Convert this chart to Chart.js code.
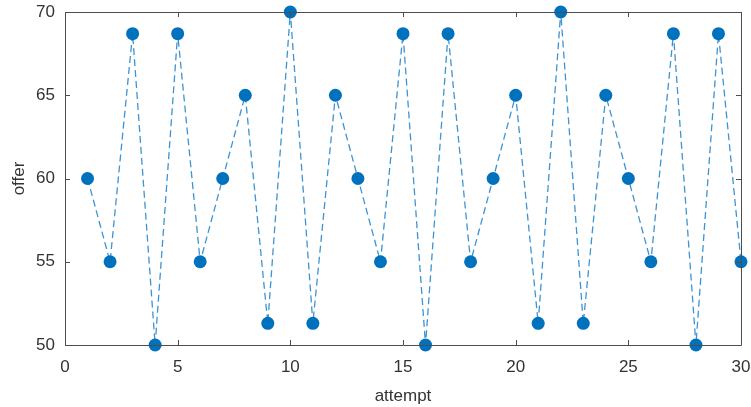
<!DOCTYPE html>
<html>
<head>
<meta charset="utf-8">
<script src="https://cdn.jsdelivr.net/npm/chart.js@4/dist/chart.umd.min.js"></script>
<style>
html,body{margin:0;padding:0;background:#fff;}
#wrap{width:751px;height:407px;position:relative;}
</style>
</head>
<body>
<div id="wrap"><canvas id="c" width="751" height="407"></canvas></div>
<script>
const attempts = [1,2,3,4,5,6,7,8,9,10,11,12,13,14,15,16,17,18,19,20,21,22,23,24,25,26,27,28,29,30];
const offers = [60,55,68.7,50,68.7,55,60,65,51.3,70,51.3,65,60,55,68.7,50,68.7,55,60,65,51.3,70,51.3,65,60,55,68.7,50,68.7,55];
const xTicks = [0,5,10,15,20,25,30];
const yTicks = [50,55,60,65,70];
const xTitle = 'attempt';
const yTitle = 'offer';

const axisColor = '#4d4d4d';
const textColor = '#333333';
const font = {family:'"Liberation Sans", Arial, sans-serif', size:17};

const boxPlugin = {
  id:'box',
  afterDraw(chart){
    const {ctx, chartArea:a, scales:{x,y}} = chart;
    ctx.save();
    ctx.strokeStyle = axisColor;
    ctx.lineWidth = 1;
    ctx.beginPath();
    ctx.rect(Math.round(a.left)+0.5, Math.round(a.top)+0.5, Math.round(a.right-a.left), Math.round(a.bottom-a.top));
    ctx.stroke();
    const L = 5;
    ctx.beginPath();
    xTicks.forEach(v=>{
      const px = Math.round(x.getPixelForValue(v))+0.5;
      ctx.moveTo(px,a.bottom); ctx.lineTo(px,a.bottom-L);
      ctx.moveTo(px,a.top); ctx.lineTo(px,a.top+L);
    });
    yTicks.forEach(v=>{
      const py = Math.round(y.getPixelForValue(v))+0.5;
      ctx.moveTo(a.left,py); ctx.lineTo(a.left+L,py);
      ctx.moveTo(a.right,py); ctx.lineTo(a.right-L,py);
    });
    ctx.stroke();
    ctx.restore();
  }
};

new Chart(document.getElementById('c'), {
  type:'line',
  data:{
    datasets:[{
      data: attempts.map((a,i)=>({x:a,y:offers[i]})),
      borderColor:'#3d93d3',
      borderWidth:1.3,
      borderDash:[7,4],
      pointBackgroundColor:'#0072BD',
      pointBorderColor:'#0072BD',
      pointRadius:6.5,
      pointBorderWidth:0,
      tension:0,
      clip:false
    }]
  },
  options:{
    responsive:false,
    animation:false,
    devicePixelRatio:1,
    layout:{padding:{top:12,right:10,left:0,bottom:0}},
    plugins:{legend:{display:false},tooltip:{enabled:false}},
    scales:{
      x:{
        type:'linear', min:0, max:30,
        afterBuildTicks(s){ s.ticks = xTicks.map(v=>({value:v})); },
        afterFit(s){ s.height = 62; s.paddingLeft = 0; s.paddingRight = 0; },
        grid:{display:false, drawTicks:false},
        border:{display:false},
        ticks:{color:textColor, font, padding:12, maxRotation:0},
        title:{display:true, text:xTitle, color:textColor, font, padding:{top:3,bottom:0}}
      },
      y:{
        type:'linear', min:50, max:70,
        afterBuildTicks(s){ s.ticks = yTicks.map(v=>({value:v})); },
        afterFit(s){ s.width = 65; s.paddingTop = 0; s.paddingBottom = 0; },
        grid:{display:false, drawTicks:false},
        border:{display:false},
        ticks:{color:textColor, font, padding:10},
        title:{display:true, text:yTitle, color:textColor, font, padding:{top:9,bottom:6}}
      }
    }
  },
  plugins:[boxPlugin]
});
</script>
</body>
</html>
